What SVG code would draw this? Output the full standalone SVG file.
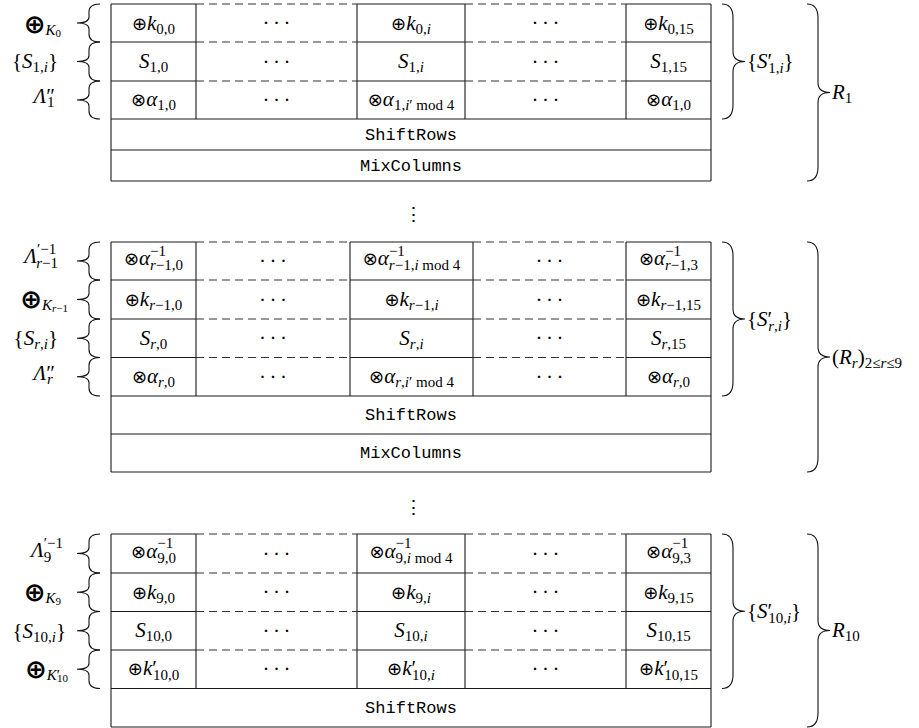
<svg xmlns="http://www.w3.org/2000/svg" width="919" height="728" viewBox="0 0 919 728">
<style>
  .ln { stroke:#1a1a1a; stroke-width:1.1; fill:none; }
  .dash { stroke:#333; stroke-width:1.1; fill:none; stroke-dasharray:8 5; }
  .br { stroke:#111; stroke-width:1.1; fill:none; }
  .m { font-family:"Liberation Serif","DejaVu Serif",serif; font-size:21px; fill:#000; }
  .c { text-anchor:middle; }
  .e { text-anchor:end; }
  .i { font-style:italic; }
  .s { font-size:15px; }
  .ss { font-size:11px; }
  .op { font-family:"DejaVu Sans",sans-serif; font-size:18px; }
  .big { font-family:"DejaVu Sans",sans-serif; font-size:26px; font-weight:bold; }
  .tt { font-family:"Liberation Mono",monospace; font-size:17px; text-anchor:middle; fill:#000; }
  .dots { font-family:"Liberation Serif",serif; font-size:21px; letter-spacing:3.5px; text-anchor:middle; fill:#000; }
  .vd { font-family:"DejaVu Serif",serif; font-size:19px; text-anchor:middle; fill:#000; }
</style>
<rect width="919" height="728" fill="#fff"/>

<!-- Round 1 -->
<g id="round-1">
  <path class="ln" d="M111,4 H196 M357,4 H465 M626,4 H711 M111,42 H196 M357,42 H465 M626,42 H711 M111,81 H196 M357,81 H465 M626,81 H711 M111,119 H711 M111,150 H711 M111,181 H711 M111,4 V181 M711,4 V181 M196,4 V119 M357,4 V119 M465,4 V119 M626,4 V119"/>
  <path class="dash" d="M196,4 H357 M465,4 H626 M196,42 H357 M465,42 H626 M196,81 H357 M465,81 H626"/>
  <g id="r1-addkey">
    <text class="m c" x="153.5" y="29.5"><tspan class="op">⊕</tspan><tspan class="i">k</tspan><tspan class="s" dy="4">0,0</tspan></text>
    <text class="dots" x="278.25" y="30">···</text>
    <text class="m c" x="411" y="29.5"><tspan class="op">⊕</tspan><tspan class="i">k</tspan><tspan class="s" dy="4">0,<tspan class="i">i</tspan></tspan></text>
    <text class="dots" x="547.25" y="30">···</text>
    <text class="m c" x="668.5" y="29.5"><tspan class="op">⊕</tspan><tspan class="i">k</tspan><tspan class="s" dy="4">0,15</tspan></text>
  </g>
  <g id="r1-sbox">
    <text class="m c" x="153.5" y="68"><tspan class="i">S</tspan><tspan class="s" dy="4">1,0</tspan></text>
    <text class="dots" x="278.25" y="68.5">···</text>
    <text class="m c" x="411" y="68"><tspan class="i">S</tspan><tspan class="s" dy="4">1,<tspan class="i">i</tspan></tspan></text>
    <text class="dots" x="547.25" y="68.5">···</text>
    <text class="m c" x="668.5" y="68"><tspan class="i">S</tspan><tspan class="s" dy="4">1,15</tspan></text>
  </g>
  <g id="r1-mask">
    <text class="m c" x="153.5" y="106"><tspan class="op">⊗</tspan><tspan class="i">α</tspan><tspan class="s" dy="4">1,0</tspan></text>
    <text class="dots" x="278.25" y="107">···</text>
    <text class="m c" x="411" y="106"><tspan class="op">⊗</tspan><tspan class="i">α</tspan><tspan class="s" dy="4">1,<tspan class="i">i</tspan>′ mod 4</tspan></text>
    <text class="dots" x="547.25" y="107">···</text>
    <text class="m c" x="668.5" y="106"><tspan class="op">⊗</tspan><tspan class="i">α</tspan><tspan class="s" dy="4">1,0</tspan></text>
  </g>
  <g id="r1-shiftrows"><text class="tt" x="411" y="140">ShiftRows</text></g>
  <g id="r1-mixcolumns"><text class="tt" x="411" y="171">MixColumns</text></g>
  <g id="r1-labels">
    <text class="m e" x="61" y="33"><tspan class="big">⊕</tspan><tspan class="i s" dy="2">K</tspan><tspan class="ss" dy="2">0</tspan></text>
    <text class="m e" x="58" y="68">{<tspan class="i">S</tspan><tspan class="s" dy="4">1,<tspan class="i">i</tspan></tspan><tspan dy="-4">}</tspan></text>
    <text class="m e" x="55" y="103"><tspan class="i">Λ</tspan>″<tspan class="s" dx="-8" dy="4">1</tspan></text>
    <text class="m" x="747" y="68">{<tspan class="i">S</tspan>′<tspan class="s" dx="-4" dy="5">1,<tspan class="i">i</tspan></tspan><tspan dy="-5">}</tspan></text>
    <text class="m" x="832" y="99"><tspan class="i">R</tspan><tspan class="s" dy="4">1</tspan></text>
  </g>
</g>

<g id="vdots-1"><text class="vd" x="413.5" y="221">⋮</text></g>

<!-- Rounds 2..9 -->
<g id="round-r">
  <path class="ln" d="M111,242 H196 M350,242 H473 M626,242 H711 M111,280 H196 M350,280 H473 M626,280 H711 M111,319 H196 M350,319 H473 M626,319 H711 M111,357.5 H196 M350,357.5 H473 M626,357.5 H711 M111,396 H711 M111,434 H711 M111,472 H711 M111,242 V472 M711,242 V472 M196,242 V396 M350,242 V396 M473,242 V396 M626,242 V396"/>
  <path class="dash" d="M196,242 H350 M473,242 H626 M196,280 H350 M473,280 H626 M196,319 H350 M473,319 H626 M196,357.5 H350 M473,357.5 H626"/>
  <g id="rr-unmask">
    <text class="m c" x="153.5" y="265"><tspan class="op">⊗</tspan><tspan class="i">α</tspan><tspan class="s" dy="-9.5">−1</tspan><tspan class="s" dx="-16" dy="14.5"><tspan class="i">r</tspan>−1,0</tspan></text>
    <text class="dots" x="274.75" y="268">···</text>
    <text class="m c" x="411.5" y="265"><tspan class="op">⊗</tspan><tspan class="i">α</tspan><tspan class="s" dy="-9.5">−1</tspan><tspan class="s" dx="-16" dy="14.5"><tspan class="i">r</tspan>−1,<tspan class="i">i</tspan> mod 4</tspan></text>
    <text class="dots" x="551.25" y="268">···</text>
    <text class="m c" x="668.5" y="265"><tspan class="op">⊗</tspan><tspan class="i">α</tspan><tspan class="s" dy="-9.5">−1</tspan><tspan class="s" dx="-16" dy="14.5"><tspan class="i">r</tspan>−1,3</tspan></text>
  </g>
  <g id="rr-addkey">
    <text class="m c" x="153.5" y="306"><tspan class="op">⊕</tspan><tspan class="i">k</tspan><tspan class="s" dy="4"><tspan class="i">r</tspan>−1,0</tspan></text>
    <text class="dots" x="274.75" y="306.5">···</text>
    <text class="m c" x="411.5" y="306"><tspan class="op">⊕</tspan><tspan class="i">k</tspan><tspan class="s" dy="4"><tspan class="i">r</tspan>−1,<tspan class="i">i</tspan></tspan></text>
    <text class="dots" x="551.25" y="306.5">···</text>
    <text class="m c" x="668.5" y="306"><tspan class="op">⊕</tspan><tspan class="i">k</tspan><tspan class="s" dy="4"><tspan class="i">r</tspan>−1,15</tspan></text>
  </g>
  <g id="rr-sbox">
    <text class="m c" x="153.5" y="344.5"><tspan class="i">S</tspan><tspan class="s" dy="4"><tspan class="i">r</tspan>,0</tspan></text>
    <text class="dots" x="274.75" y="345">···</text>
    <text class="m c" x="411.5" y="344.5"><tspan class="i">S</tspan><tspan class="s" dy="4"><tspan class="i">r</tspan>,<tspan class="i">i</tspan></tspan></text>
    <text class="dots" x="551.25" y="345">···</text>
    <text class="m c" x="668.5" y="344.5"><tspan class="i">S</tspan><tspan class="s" dy="4"><tspan class="i">r</tspan>,15</tspan></text>
  </g>
  <g id="rr-mask">
    <text class="m c" x="153.5" y="383"><tspan class="op">⊗</tspan><tspan class="i">α</tspan><tspan class="s" dy="4"><tspan class="i">r</tspan>,0</tspan></text>
    <text class="dots" x="274.75" y="383.5">···</text>
    <text class="m c" x="411.5" y="383"><tspan class="op">⊗</tspan><tspan class="i">α</tspan><tspan class="s" dy="4"><tspan class="i">r</tspan>,<tspan class="i">i</tspan>′ mod 4</tspan></text>
    <text class="dots" x="551.25" y="383.5">···</text>
    <text class="m c" x="668.5" y="383"><tspan class="op">⊗</tspan><tspan class="i">α</tspan><tspan class="s" dy="4"><tspan class="i">r</tspan>,0</tspan></text>
  </g>
  <g id="rr-shiftrows"><text class="tt" x="411" y="420">ShiftRows</text></g>
  <g id="rr-mixcolumns"><text class="tt" x="411" y="458">MixColumns</text></g>
  <g id="rr-labels">
    <text class="m e" x="58" y="263"><tspan class="i">Λ</tspan><tspan class="s" dy="-9.5">′−1</tspan><tspan class="s" dx="-20" dy="14.5"><tspan class="i">r</tspan>−1</tspan></text>
    <text class="m e" x="68" y="308"><tspan class="big">⊕</tspan><tspan class="i s" dy="2">K</tspan><tspan class="ss" dy="2"><tspan class="i">r</tspan>−1</tspan></text>
    <text class="m e" x="58" y="344.5">{<tspan class="i">S</tspan><tspan class="s" dy="4"><tspan class="i">r</tspan>,<tspan class="i">i</tspan></tspan><tspan dy="-4">}</tspan></text>
    <text class="m e" x="55" y="380"><tspan class="i">Λ</tspan>″<tspan class="s i" dx="-8" dy="4">r</tspan></text>
    <text class="m" x="747" y="325.5">{<tspan class="i">S</tspan>′<tspan class="s" dx="-4" dy="5"><tspan class="i">r</tspan>,<tspan class="i">i</tspan></tspan><tspan dy="-5">}</tspan></text>
    <text class="m" x="832" y="363.5">(<tspan class="i">R</tspan><tspan class="s i" dy="4">r</tspan><tspan dy="-4">)</tspan><tspan class="s" dy="4">2≤<tspan class="i">r</tspan>≤9</tspan></text>
  </g>
</g>

<g id="vdots-2"><text class="vd" x="413.5" y="514">⋮</text></g>

<!-- Round 10 -->
<g id="round-10">
  <path class="ln" d="M111,534 H196 M357,534 H465 M626,534 H711 M111,573 H196 M357,573 H465 M626,573 H711 M111,611.5 H196 M357,611.5 H465 M626,611.5 H711 M111,650 H196 M357,650 H465 M626,650 H711 M111,688.5 H711 M111,727 H711 M111,534 V727 M711,534 V727 M196,534 V688.5 M357,534 V688.5 M465,534 V688.5 M626,534 V688.5"/>
  <path class="dash" d="M196,534 H357 M465,534 H626 M196,573 H357 M465,573 H626 M196,611.5 H357 M465,611.5 H626 M196,650 H357 M465,650 H626"/>
  <g id="r10-unmask">
    <text class="m c" x="153.5" y="557.5"><tspan class="op">⊗</tspan><tspan class="i">α</tspan><tspan class="s" dy="-9.5">−1</tspan><tspan class="s" dx="-16" dy="14.5">9,0</tspan></text>
    <text class="dots" x="278.25" y="560.5">···</text>
    <text class="m c" x="411" y="557.5"><tspan class="op">⊗</tspan><tspan class="i">α</tspan><tspan class="s" dy="-9.5">−1</tspan><tspan class="s" dx="-16" dy="14.5">9,<tspan class="i">i</tspan> mod 4</tspan></text>
    <text class="dots" x="547.25" y="560.5">···</text>
    <text class="m c" x="668.5" y="557.5"><tspan class="op">⊗</tspan><tspan class="i">α</tspan><tspan class="s" dy="-9.5">−1</tspan><tspan class="s" dx="-16" dy="14.5">9,3</tspan></text>
  </g>
  <g id="r10-addkey">
    <text class="m c" x="153.5" y="598.5"><tspan class="op">⊕</tspan><tspan class="i">k</tspan><tspan class="s" dy="4">9,0</tspan></text>
    <text class="dots" x="278.25" y="599">···</text>
    <text class="m c" x="411" y="598.5"><tspan class="op">⊕</tspan><tspan class="i">k</tspan><tspan class="s" dy="4">9,<tspan class="i">i</tspan></tspan></text>
    <text class="dots" x="547.25" y="599">···</text>
    <text class="m c" x="668.5" y="598.5"><tspan class="op">⊕</tspan><tspan class="i">k</tspan><tspan class="s" dy="4">9,15</tspan></text>
  </g>
  <g id="r10-sbox">
    <text class="m c" x="153.5" y="637"><tspan class="i">S</tspan><tspan class="s" dy="4">10,0</tspan></text>
    <text class="dots" x="278.25" y="637.5">···</text>
    <text class="m c" x="411" y="637"><tspan class="i">S</tspan><tspan class="s" dy="4">10,<tspan class="i">i</tspan></tspan></text>
    <text class="dots" x="547.25" y="637.5">···</text>
    <text class="m c" x="668.5" y="637"><tspan class="i">S</tspan><tspan class="s" dy="4">10,15</tspan></text>
  </g>
  <g id="r10-lastkey">
    <text class="m c" x="153.5" y="674.5"><tspan class="op">⊕</tspan><tspan class="i">k</tspan>′<tspan class="s" dx="-4" dy="5">10,0</tspan></text>
    <text class="dots" x="278.25" y="676">···</text>
    <text class="m c" x="411" y="674.5"><tspan class="op">⊕</tspan><tspan class="i">k</tspan>′<tspan class="s" dx="-4" dy="5">10,<tspan class="i">i</tspan></tspan></text>
    <text class="dots" x="547.25" y="676">···</text>
    <text class="m c" x="668.5" y="674.5"><tspan class="op">⊕</tspan><tspan class="i">k</tspan>′<tspan class="s" dx="-4" dy="5">10,15</tspan></text>
  </g>
  <g id="r10-shiftrows"><text class="tt" x="411" y="713">ShiftRows</text></g>
  <g id="r10-labels">
    <text class="m e" x="63" y="557"><tspan class="i">Λ</tspan><tspan class="s" dy="5">9</tspan><tspan class="s" dx="-7.5" dy="-14.5">′−1</tspan></text>
    <text class="m e" x="61" y="600.5"><tspan class="big">⊕</tspan><tspan class="i s" dy="2">K</tspan><tspan class="ss" dy="2">9</tspan></text>
    <text class="m e" x="66" y="637.5">{<tspan class="i">S</tspan><tspan class="s" dy="4">10,<tspan class="i">i</tspan></tspan><tspan dy="-4">}</tspan></text>
    <text class="m e" x="68" y="677.5"><tspan class="big">⊕</tspan><tspan class="i s" dy="2">K</tspan><tspan class="s">′</tspan><tspan class="ss" dx="-3" dy="2">10</tspan></text>
    <text class="m" x="747" y="617.5">{<tspan class="i">S</tspan>′<tspan class="s" dx="-4" dy="5">10,<tspan class="i">i</tspan></tspan><tspan dy="-5">}</tspan></text>
    <text class="m" x="832" y="636.5"><tspan class="i">R</tspan><tspan class="s" dy="4">10</tspan></text>
  </g>
</g>

<!-- Curly braces grouping the rows -->
<g id="braces" class="br">
  <path d="M100,4 C93,4 89,6 89,12 L89,17 C89,21 86,23 77,23 C86,23 89,25 89,29 L89,34 C89,40 93,42 100,42"/>
  <path d="M100,42 C93,42 89,44 89,50 L89,55.5 C89,59.5 86,61.5 77,61.5 C86,61.5 89,63.5 89,67.5 L89,73 C89,79 93,81 100,81"/>
  <path d="M100,81 C93,81 89,83 89,89 L89,94 C89,98 86,100 77,100 C86,100 89,102 89,106 L89,111 C89,117 93,119 100,119"/>
  <path d="M100,242 C93,242 89,244 89,250 L89,255 C89,259 86,261 77,261 C86,261 89,263 89,267 L89,272 C89,278 93,280 100,280"/>
  <path d="M100,280 C93,280 89,282 89,288 L89,293.5 C89,297.5 86,299.5 77,299.5 C86,299.5 89,301.5 89,305.5 L89,311 C89,317 93,319 100,319"/>
  <path d="M100,319 C93,319 89,321 89,327 L89,332.25 C89,336.25 86,338.25 77,338.25 C86,338.25 89,340.25 89,344.25 L89,349.5 C89,355.5 93,357.5 100,357.5"/>
  <path d="M100,357.5 C93,357.5 89,359.5 89,365.5 L89,370.75 C89,374.75 86,376.75 77,376.75 C86,376.75 89,378.75 89,382.75 L89,388 C89,394 93,396 100,396"/>
  <path d="M100,534 C93,534 89,536 89,542 L89,547.5 C89,551.5 86,553.5 77,553.5 C86,553.5 89,555.5 89,559.5 L89,565 C89,571 93,573 100,573"/>
  <path d="M100,573 C93,573 89,575 89,581 L89,586.25 C89,590.25 86,592.25 77,592.25 C86,592.25 89,594.25 89,598.25 L89,603.5 C89,609.5 93,611.5 100,611.5"/>
  <path d="M100,611.5 C93,611.5 89,613.5 89,619.5 L89,624.75 C89,628.75 86,630.75 77,630.75 C86,630.75 89,632.75 89,636.75 L89,642 C89,648 93,650 100,650"/>
  <path d="M100,650 C93,650 89,652 89,658 L89,663.25 C89,667.25 86,669.25 77,669.25 C86,669.25 89,671.25 89,675.25 L89,680.5 C89,686.5 93,688.5 100,688.5"/>
  <path d="M722,4 C729,4 733,8 733,18 L733,51.5 C733,58.5 737,61.5 745,61.5 C737,61.5 733,64.5 733,71.5 L733,105 C733,115 729,119 722,119"/>
  <path d="M722,242 C729,242 733,246 733,256 L733,309 C733,316 737,319 745,319 C737,319 733,322 733,329 L733,382 C733,392 729,396 722,396"/>
  <path d="M722,534 C729,534 733,538 733,548 L733,601.25 C733,608.25 737,611.25 745,611.25 C737,611.25 733,614.25 733,621.25 L733,674.5 C733,684.5 729,688.5 722,688.5"/>
  <path d="M807,4 C814,4 818,8 818,18 L818,82.5 C818,89.5 822,92.5 830,92.5 C822,92.5 818,95.5 818,102.5 L818,167 C818,177 814,181 807,181"/>
  <path d="M807,242 C814,242 818,246 818,256 L818,347 C818,354 822,357 830,357 C822,357 818,360 818,367 L818,458 C818,468 814,472 807,472"/>
  <path d="M807,534 C814,534 818,538 818,548 L818,620.5 C818,627.5 822,630.5 830,630.5 C822,630.5 818,633.5 818,640.5 L818,713 C818,723 814,727 807,727"/>
</g>
</svg>
